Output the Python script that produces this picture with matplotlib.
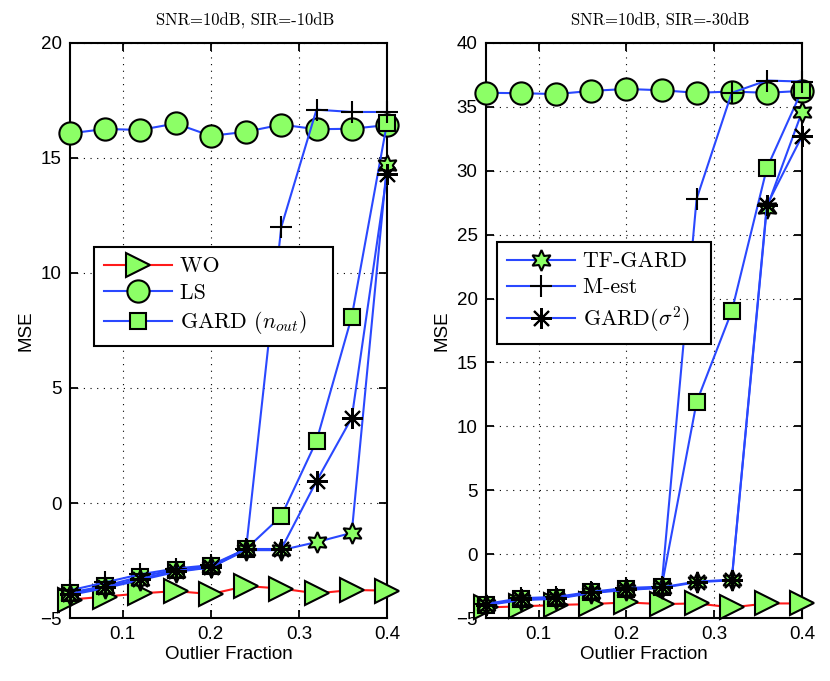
import numpy as np
import matplotlib
matplotlib.use("Agg")
from matplotlib import pyplot as plt

plt.rcParams['mathtext.fontset'] = 'cm'
plt.rcParams['font.family'] = ['Liberation Sans', 'DejaVu Sans']
plt.rcParams['axes.unicode_minus'] = True

# outlier fractions
frac = [0.04, 0.08, 0.12, 0.16, 0.20, 0.24, 0.28, 0.32, 0.36, 0.40]

# SNR=10dB, SIR=-10dB
wo_a = [-4.2, -4.07, -3.93, -3.83, -3.96, -3.61, -3.72, -3.93, -3.78, -3.81]
ls_a = [16.07, 16.26, 16.22, 16.5, 15.96, 16.14, 16.45, 16.25, 16.27, 16.43]
gn_a = [-3.9, -3.6, -3.2, -2.9, -2.75, -2.0, -0.57, 2.7, 8.1, 16.5]
tf_a = [-4.0, -3.7, -3.35, -3.0, -2.8, -2.05, -2.05, -1.7, -1.3, 14.7]
me_a = [-3.8, -3.45, -3.1, -2.85, -2.7, -2.0, 12.0, 17.1, 17.0, 17.0]
gs_a = [-3.95, -3.65, -3.3, -2.95, -2.8, -2.0, -2.0, 0.95, 3.7, 14.3]

# SNR=10dB, SIR=-30dB
wo_b = [-4.17, -4.09, -3.98, -3.91, -3.78, -3.91, -3.86, -4.17, -3.86, -3.86]
ls_b = [36.1, 36.07, 36.0, 36.25, 36.4, 36.3, 36.1, 36.2, 36.1, 36.25]
gn_b = [-3.96, -3.52, -3.44, -3.0, -2.73, -2.6, 11.9, 19.0, 30.2, 36.3]
tf_b = [-4.0, -3.6, -3.5, -3.05, -2.8, -2.65, -2.2, -2.05, 27.1, 34.6]
me_b = [-3.9, -3.45, -3.35, -2.95, -2.65, -2.55, 27.8, 36.1, 37.06, 36.98]
gs_b = [-3.95, -3.55, -3.45, -3.0, -2.75, -2.6, -2.15, -2.0, 27.3, 32.7]

titles = ['SNR=10dB, SIR=-10dB', 'SNR=10dB, SIR=-30dB']

red = '#ff1a1a'
blue = '#2a48ff'
green = '#8cff66'

fig = plt.figure(figsize=(8.3, 6.81), dpi=100)
ax1 = fig.add_axes([0.0843, 0.0925, 0.3819, 0.8444])
ax2 = fig.add_axes([0.5855, 0.0925, 0.3807, 0.8444])

def draw(ax, wo, ls, gn, tf, me, gs):
    kw = dict(lw=1.5, mfc=green, mec='k', mew=1.5, clip_on=False)
    h = []
    h += ax.plot(frac, wo, '-', color=red, marker='>', ms=17, label='WO', **kw)
    h += ax.plot(frac, ls, '-', color=blue, marker='o', ms=16, label='LS', **kw)
    h += ax.plot(frac, gn, '-', color=blue, marker='s', ms=12,
                 label=r'GARD ($n_{out}$)', **kw)
    h += ax.plot(frac, tf, '-', color=blue, marker=(6, 1, 0), ms=15,
                 label='TF-GARD', **kw)
    h += ax.plot(frac, me, '-', color=blue, marker='+', ms=16, label='M-est', **kw)
    h += ax.plot(frac, gs, '-', color=blue, marker=(8, 2, 0), ms=15,
                 label=r'GARD($\sigma^2$)', **kw)
    ax.set_xlim(0.04, 0.4)
    ax.set_xticks([0.1, 0.2, 0.3, 0.4])
    ax.grid(True, color='k', linestyle=(0, (1, 5)), linewidth=0.8)
    ax.tick_params(direction='in', top=True, right=True, labelsize=13.5,
                   length=6, width=1.3, pad=6)
    for s in ax.spines.values():
        s.set_linewidth(1.5)
        s.set_zorder(1)
    ax.set_xlabel('Outlier Fraction', fontsize=13.5, labelpad=2)
    ax.set_ylabel('MSE', fontsize=13.5)
    return h

h1 = draw(ax1, wo_a, ls_a, gn_a, tf_a, me_a, gs_a)
ax1.set_ylim(-5, 20)
ax1.set_yticks(np.arange(-5, 21, 5))
h2 = draw(ax2, wo_b, ls_b, gn_b, tf_b, me_b, gs_b)
ax2.set_ylim(-5, 40)
ax2.set_yticks(np.arange(-5, 41, 5))

for ax, t in zip([ax1, ax2], titles):
    ax.text(0.553, 1.025, t, transform=ax.transAxes, ha='center', va='bottom',
            fontsize=12, family='cmr10')

legkw = dict(loc='upper left', borderaxespad=0, fancybox=False, framealpha=1,
             edgecolor='k', handlelength=3.1, handletextpad=0.35, borderpad=0.45,
             labelspacing=0.3, prop={'family': 'cmr10', 'size': 15.8})
# MATLAB leaves extra room right of the text
l1 = ax1.legend(h1[:3], [x.get_label() + '   ' for x in h1[:3]],
                bbox_to_anchor=(0.076, 0.645), **legkw)
l2 = ax2.legend(h2[3:], [x.get_label() + '  ' for x in h2[3:]],
                bbox_to_anchor=(0.035, 0.654), **legkw)
for l in (l1, l2):
    l.get_frame().set_linewidth(1.5)
    l.set_zorder(5)

plt.savefig("out.png", dpi=100)
